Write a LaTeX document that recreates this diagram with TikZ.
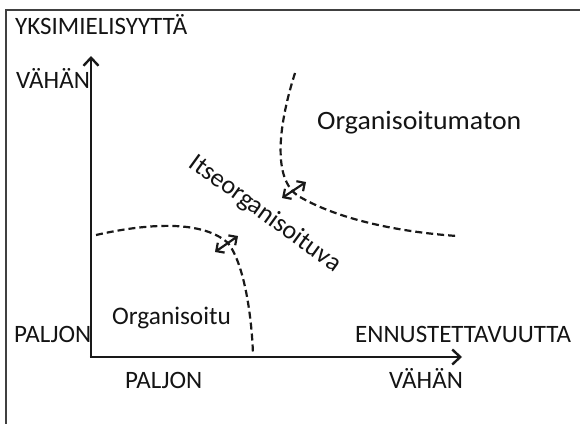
\documentclass[tikz,border=0pt]{standalone}
\usepackage{fontspec}
\setmainfont{Carlito}
\usetikzlibrary{arrows.meta}
\begin{document}
\begin{tikzpicture}[x=1pt,y=-1pt,
  lbl/.style={inner sep=0pt,anchor=base west,text=black!92,font=\fontsize{25}{28}\selectfont},
  lowlbl/.style={lbl,font=\fontsize{26.5}{30}\selectfont},
  axis/.style={line width=2.4pt,black!90,-{Straight Barb[length=8pt,width=15pt,line width=2.4pt]}},
  bound/.style={line width=2.2pt,black!90,dash pattern=on 7pt off 4pt},
  dbl/.style={line width=2.2pt,black!90,{Straight Barb[length=6pt,width=12pt,line width=2.2pt]}-{Straight Barb[length=6pt,width=12pt,line width=2.2pt]}}]
\useasboundingbox (0,0) rectangle (580,423);
\fill[white] (0,0) rectangle (580,423);
\draw[line width=2pt,black!75] (6,9.5) rectangle (600,450);
% axes
\coordinate (O) at (91,357);
\coordinate (Ytop) at (91,56);
\coordinate (Xend) at (462,357);
\draw[axis] (O) -- (Ytop);
\draw[axis] ([xshift=-1.2pt]O) -- (Xend);
% labels
\node[lbl] (title) at (15,34) {YKSIMIELISYYTTÄ};
\node[lbl] (vl) at (16,88) {VÄHÄN};
\node[lbl] (pl) at (14,342) {PALJON};
\node[lbl] (enn) at (355,342) {ENNUSTETTAVUUTTA};
\node[lbl] (pb) at (125,388) {PALJON};
\node[lbl] (vb) at (389,388) {VÄHÄN};
\node[lowlbl,font=\fontsize{25.3}{30}\selectfont] (org) at (112,324) {Organisoitu};
\node[lowlbl,xscale=1.05] (orgm) at (317,129) {Organisoitumaton};
\node[inner sep=0pt,text=black!92,font=\fontsize{26}{30}\selectfont,rotate=-36] (itse) at (265,214) {Itseorganisoituva};
% boundaries
\coordinate (a1) at (96,235);
\coordinate (a2) at (253,355);
\draw[bound] (a1) .. controls (140,225) and (200,218) .. (228,243)
  .. controls (245,265) and (252,320) .. (a2);
\coordinate (b1) at (295,73);
\coordinate (b2) at (457,236);
\draw[bound] (b1) .. controls (280,120) and (270,180) .. (300,197)
  .. controls (340,220) and (400,232) .. (b2);
% double arrows
\coordinate (d1s) at (215,252);
\coordinate (d1e) at (238,236);
\draw[dbl] (d1s) -- (d1e);
\coordinate (d2s) at (282,198);
\coordinate (d2e) at (306,182);
\draw[dbl] (d2s) -- (d2e);
\end{tikzpicture}
\end{document}
